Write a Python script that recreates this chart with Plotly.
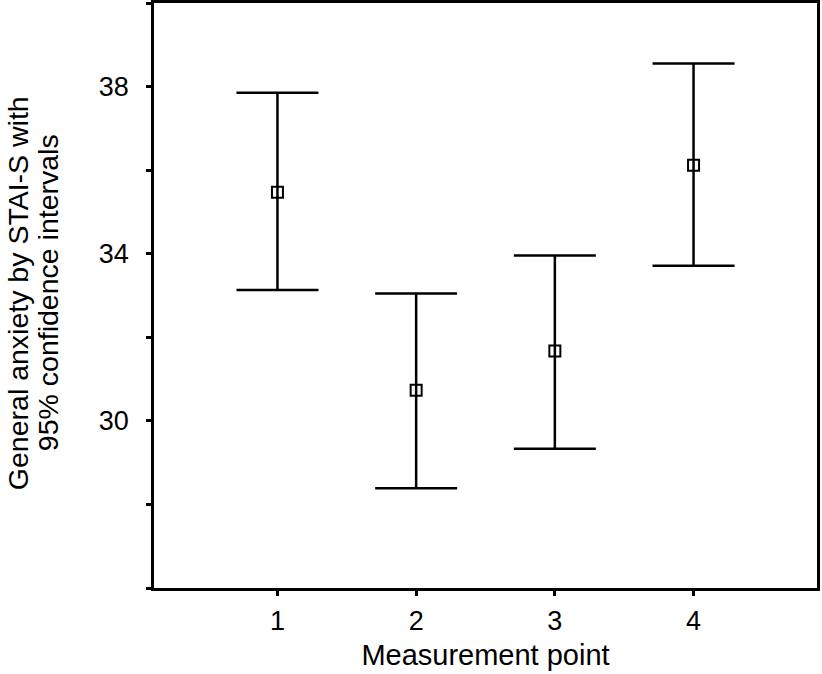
import plotly.graph_objects as go

# measurement points and STAI-S means with 95% CI bounds
points = [1, 2, 3, 4]
means = [35.47, 30.73, 31.67, 36.12]
upper = [37.85, 33.05, 33.96, 38.55]
lower = [33.13, 28.39, 29.33, 33.71]

y_ticks = [26, 28, 30, 32, 34, 36, 38, 40]
y_labels = ["", "", "30", "", "34", "", "38", ""]

y_title = ["General anxiety by STAI-S with", "95% confidence intervals"]

err_plus = [u - m for u, m in zip(upper, means)]
err_minus = [m - l for m, l in zip(means, lower)]

trace = go.Scatter(
    x=points, y=means,
    mode='markers',
    marker=dict(symbol='square-open', size=11, color='black',
                line=dict(width=2, color='black')),
    error_y=dict(type='data', symmetric=False,
                 array=err_plus, arrayminus=err_minus,
                 color='black', thickness=2.5, width=41),
    showlegend=False)

# y title drawn as two rotated lines (tighter line spacing than axis title)
notes = [
    dict(text=y_title[0], xref='paper', yref='paper', x=0, y=0.504,
         xshift=-136, xanchor='center', yanchor='middle', textangle=-90,
         showarrow=False, font=dict(size=28.5)),
    dict(text=y_title[1], xref='paper', yref='paper', x=0, y=0.504,
         xshift=-106, xanchor='center', yanchor='middle', textangle=-90,
         showarrow=False, font=dict(size=28.5)),
]

layout = go.Layout(
    width=822, height=674,
    margin=dict(l=154, r=5, t=3, b=86),
    paper_bgcolor='white', plot_bgcolor='white',
    font=dict(family='Liberation Sans, Arial, sans-serif', size=27, color='black'),
    xaxis=dict(range=[0.11, 4.89], tickvals=points, ticktext=[str(p) for p in points],
               tickfont=dict(size=27), automargin=False, ticklabelstandoff=2,
               showgrid=False, zeroline=False,
               showline=True, linecolor='black', linewidth=2.5, mirror=True,
               ticks='outside', ticklen=5, tickwidth=3, tickcolor='black',
               title=dict(text='Measurement point', standoff=10, font=dict(size=29))),
    yaxis=dict(range=[26, 40], tickvals=y_ticks, ticktext=y_labels,
               tickfont=dict(size=27), automargin=False, ticklabelstandoff=12,
               showgrid=False, zeroline=False,
               showline=True, linecolor='black', linewidth=2.5, mirror=True,
               ticks='outside', ticklen=5, tickwidth=3, tickcolor='black'),
    annotations=notes)

fig = go.Figure(data=[trace], layout=layout)
fig.write_html("out.html", config={'displayModeBar': False},
               post_script="document.body.style.margin='0';")
